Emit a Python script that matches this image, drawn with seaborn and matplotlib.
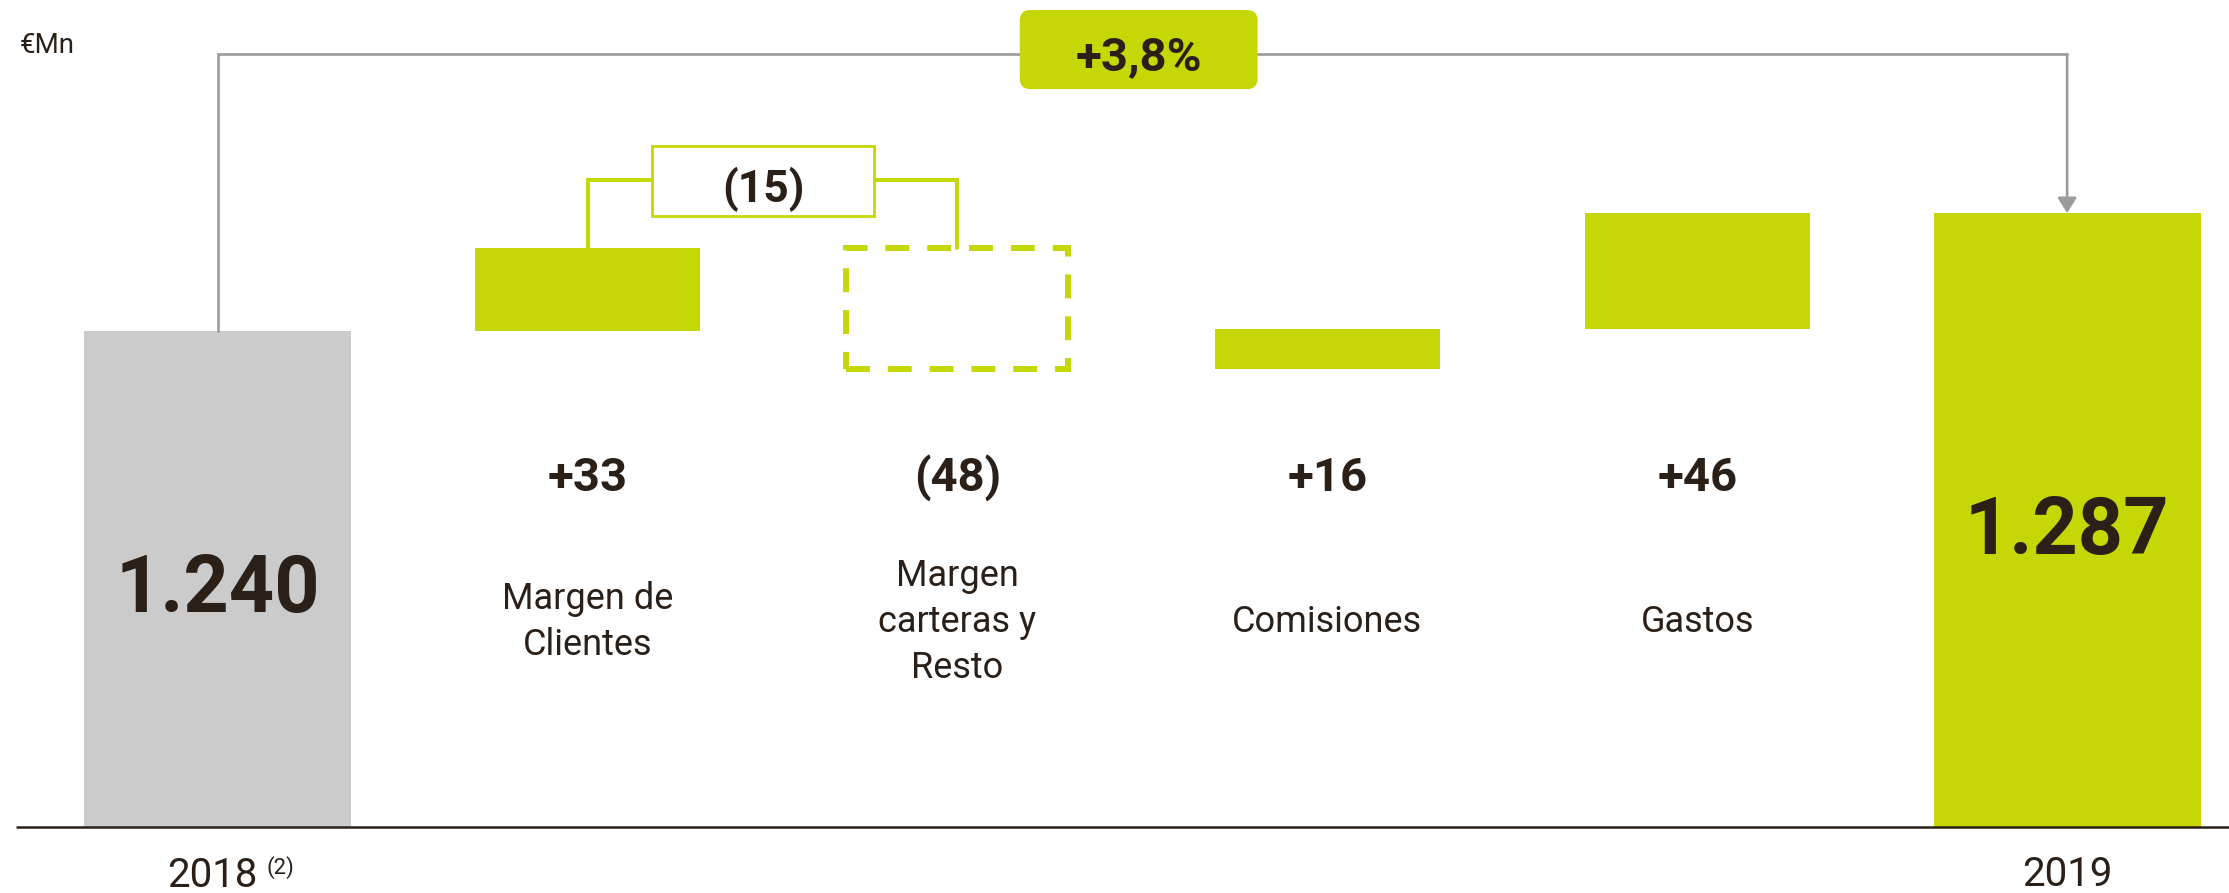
import matplotlib
matplotlib.use("Agg")
import matplotlib.pyplot as plt
from matplotlib.patches import FancyBboxPatch, Rectangle
import seaborn as sns

# data
categories = ["2018", "Margen de\nClientes", "Margen\ncarteras y\nResto", "Comisiones", "Gastos", "2019"]
start_total = 1240
end_total = 1287
step_values = [33, -48, 16, 46]
step_labels = ["+33", "(48)", "+16", "+46"]
total_labels = ["1.240", "1.287"]
subtotal_label = "(15)"
growth_label = "+3,8%"

GREEN = "#C6D706"
GREY = "#CBCBCB"
LINE_GREY = "#9B9B9B"
INK = "#2B2017"

sns.set_style("white")
plt.rcParams["font.family"] = ["Roboto", "DejaVu Sans"]

fig = plt.figure(figsize=(22.29, 8.93), dpi=100)
ax = fig.add_axes([0, 0, 1, 1])

floor = 1042.4  # broken axis: bars start here

# total bars
sns.barplot(x=[categories[0], categories[-1]], y=[start_total - floor, end_total - floor],
            hue=[categories[0], categories[-1]], palette=[GREY, GREEN], order=categories,
            bottom=floor, width=0.722, saturation=1, linewidth=0, legend=False, ax=ax)

# step bars
running = start_total
tops = []
for cat, val in zip(categories[1:-1], step_values):
    lo = min(running, running + val)
    if val >= 0:
        sns.barplot(x=[cat], y=[abs(val)], order=categories, bottom=lo, width=0.608,
                    color=GREEN, saturation=1, linewidth=0, ax=ax)
    else:
        sns.barplot(x=[cat], y=[abs(val)], order=categories, bottom=lo, width=0.6,
                    color=GREEN, saturation=1, fill=False, linewidth=4.3,
                    linestyle=(0, (4, 3)), ax=ax)
    tops.append(lo + abs(val))
    running += val

ax.set_xlim(-0.5883, 5.4376)
ax.set_ylim(1016.1, 1371.9)
ax.set_axis_off()
ax.axhline(floor, xmin=17 / 2229, xmax=1, color=INK, lw=1.8, zorder=5)

tx = ax.get_xaxis_transform()

# value and category labels
for i, lab in enumerate(step_labels):
    ax.text(i + 1, 0.4502, lab, transform=tx, ha="center", va="baseline",
            fontsize=34, fontweight="bold", color=INK)
    ax.text(i + 1, 0.3035, categories[i + 1], transform=tx, ha="center", va="center",
            fontsize=26, fontweight="normal", color=INK, linespacing=1.35)

ax.text(0, 0.3147, total_labels[0], transform=tx, ha="center", va="baseline",
        fontsize=57, fontweight="bold", color=INK)
ax.text(5, 0.3796, total_labels[1], transform=tx, ha="center", va="baseline",
        fontsize=57, fontweight="bold", color=INK)

ax.annotate(categories[0], xy=(0, 0.0067), xycoords=tx, xytext=(29, 0), textcoords="offset points",
            ha="right", va="baseline", fontsize=29, fontweight="normal", color=INK)
ax.annotate("(2)", xy=(0, 0.0213), xycoords=tx, xytext=(35.5, 0), textcoords="offset points",
            ha="left", va="baseline", fontsize=16, fontweight="normal", color=INK)
ax.text(5, 0.0078, categories[-1], transform=tx, ha="center", va="baseline",
        fontsize=29, fontweight="normal", color=INK)

ax.text(0.009, 0.9406, "€Mn", transform=ax.transAxes, ha="left", va="baseline",
        fontsize=20, color=INK)

# grey bracket 2018 -> 2019
y_top = 1350.4
ax.plot([0, 0, 5], [start_total, y_top, y_top], color=LINE_GREY, lw=1.9,
        solid_joinstyle="miter", zorder=1)
ax.annotate("", xy=(5, end_total), xytext=(5, y_top),
            arrowprops=dict(arrowstyle="-|>,head_length=0.4,head_width=0.25", color=LINE_GREY,
                            lw=1.9, mutation_scale=23, shrinkA=0, shrinkB=0), zorder=1)
ax.add_patch(FancyBboxPatch((2.49 - 0.3215, 1336.4), 0.643, 31.5,
                            boxstyle="round,pad=0,rounding_size=0.028", mutation_aspect=147.5,
                            fc=GREEN, ec="none", zorder=4))
ax.text(2.49, 0.9216, growth_label, transform=tx, ha="center", va="baseline",
        fontsize=34, fontweight="bold", color=INK, zorder=6)

# green bracket for margen subtotal
y_br = 1300.2
bx = 1.475
ax.plot([1, 1, 2, 2], [tops[0], y_br, y_br, tops[1]], color=GREEN, lw=2.9,
        solid_joinstyle="miter", zorder=1)
ax.add_patch(Rectangle((bx - 0.3, 1285.8), 0.6, 27.9, fc="white", ec=GREEN, lw=2.0, zorder=4))
ax.text(bx, 0.7738, subtotal_label, transform=tx, ha="center", va="baseline",
        fontsize=32, fontweight="bold", color=INK, zorder=6)

fig.savefig("out.png", dpi=100)
